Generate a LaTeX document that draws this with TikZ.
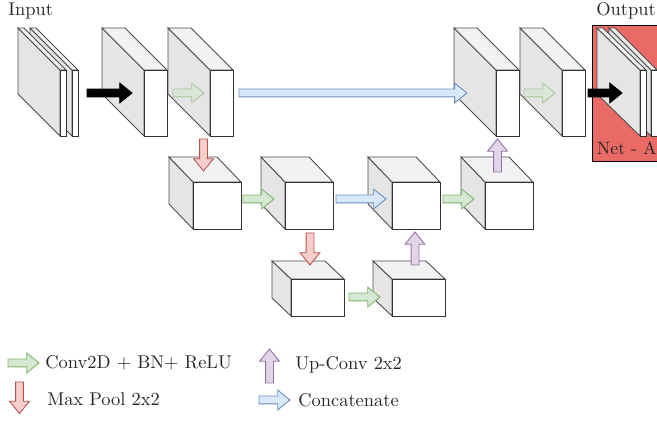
\documentclass[tikz,border=0pt]{standalone}
\usepackage{tikz}
\usetikzlibrary{shapes.arrows}
\usepackage{xcolor}

\definecolor{convfill}{HTML}{D5E8D4}
\definecolor{convline}{HTML}{82B366}
\definecolor{poolfill}{HTML}{F8CECC}
\definecolor{poolline}{HTML}{B85450}
\definecolor{upfill}{HTML}{E1D5E7}
\definecolor{upline}{HTML}{9673A6}
\definecolor{catfill}{HTML}{DAE8FC}
\definecolor{catline}{HTML}{6C8EBF}
\definecolor{netred}{HTML}{EA6B66}

\tikzset{
    blockarrow/.style={single arrow, single arrow tip angle=78, single arrow head indent=0pt,
        single arrow head extend=0.12cm, anchor=tail, text width=0pt,
        inner xsep=0pt, inner ysep=0.07cm, outer sep=0pt, line width=0.5pt},
    convarrow/.style={blockarrow, draw=convline, fill=convfill},
    poolarrow/.style={blockarrow, draw=poolline, fill=poolfill, rotate=-90},
    uparrow/.style={blockarrow, draw=upline, fill=upfill, rotate=90},
    catarrow/.style={blockarrow, draw=catline, fill=catfill},
    flowarrow/.style={blockarrow, draw=black, fill=black},
    boxtext/.style={anchor=west, inner sep=0pt, text=black!85, font=\fontsize{10.5}{12.6}\selectfont}
}

% #1 x, #2 y, #3 depth x, #4 depth y, #5 width, #6 height
\newcommand{\featblock}[6]{
    \draw[black!70, line width=0.5pt, fill=black!10] (#1,#2) -- ++(#3,#4) -- ++(0,#6) -- ++(-#3,-#4) -- cycle;
    \draw[black!70, line width=0.5pt, fill=black!5] (#1,#2) -- ++(#5,0) -- ++(#3,#4) -- ++(-#5,0) -- cycle;
    \draw[black!80, line width=0.5pt, fill=white] (#1+#3,#2+#4) rectangle ++(#5,#6);
}

\begin{document}
\begin{tikzpicture}[x=0.02cm,y=-0.02cm]
    \useasboundingbox (0,0) rectangle (657,422);
    \clip (0,0) rectangle (657,422);

    \node[boxtext] (inputlabel) at (8,10.5) {Input};
    \node[boxtext] (outputlabel) at (596,10.5) {Output};

    % top row
    \featblock{30}{28}{42}{42}{6}{66}
    \featblock{18}{28}{42}{42}{6}{66}
    \featblock{102}{28}{42}{42}{23}{66}
    \featblock{168}{28}{42}{42}{23}{66}
    \featblock{454}{28}{42}{42}{23}{66}
    \featblock{520}{28}{42}{42}{23}{66}

    % output box
    \draw[black, fill=netred, line width=0.5pt] (592,25) rectangle (670,161);
    \featblock{609}{28}{42}{42}{6}{66}
    \featblock{597}{28}{43}{42}{6}{66}
    \node[boxtext, font=\fontsize{10.2}{12}\selectfont] (netlabel) at (596.5,148) {Net - A};

    % middle row
    \featblock{169}{157}{24}{25}{48}{47}
    \featblock{261}{157}{24}{25}{48}{47}
    \featblock{368}{157}{24}{25}{48}{47}
    \featblock{461}{157}{24}{25}{48}{47}

    % bottom row
    \featblock{272}{261}{19}{18}{53}{37}
    \featblock{373}{261}{19}{18}{53}{37}

    % flow arrows
    \node[flowarrow, minimum height=0.9cm] (flowa) at (87,93) {};
    \node[flowarrow, minimum height=0.68cm] (flowb) at (588,93) {};

    \node[convarrow, opacity=.6, minimum height=0.62cm] (conva) at (173,93) {};
    \node[convarrow, opacity=.6, minimum height=0.62cm] (convb) at (524,93) {};
    \node[convarrow, minimum height=0.62cm] (convc) at (243,199) {};
    \node[convarrow, minimum height=0.62cm] (convd) at (443,199) {};
    \node[convarrow, minimum height=0.62cm] (conve) at (349,297) {};

    \node[catarrow, minimum height=4.56cm] (cata) at (239,93) {};
    \node[catarrow, minimum height=1cm] (catb) at (336,199) {};

    \node[poolarrow, minimum height=0.64cm] (poola) at (203.5,139) {};
    \node[poolarrow, minimum height=0.64cm] (poolb) at (310,233) {};

    \node[uparrow, minimum height=0.66cm] (upa) at (415,265) {};
    \node[uparrow, minimum height=0.66cm] (upb) at (497.5,172) {};

    % legend
    \node[convarrow, minimum height=0.62cm] (legconv) at (8,363) {};
    \node[boxtext] (legconvtext) at (45,363) {Conv2D + BN+ ReLU};
    \node[poolarrow, minimum height=0.63cm] (legpool) at (19.5,382) {};
    \node[boxtext] (legpooltext) at (47,399) {Max Pool 2x2};
    \node[uparrow, minimum height=0.68cm] (legup) at (269.5,383) {};
    \node[boxtext] (leguptext) at (295,365) {Up-Conv 2x2};
    \node[catarrow, minimum height=0.62cm] (legcat) at (259,400) {};
    \node[boxtext] (legcattext) at (298,400) {Concatenate};
\end{tikzpicture}
\end{document}
